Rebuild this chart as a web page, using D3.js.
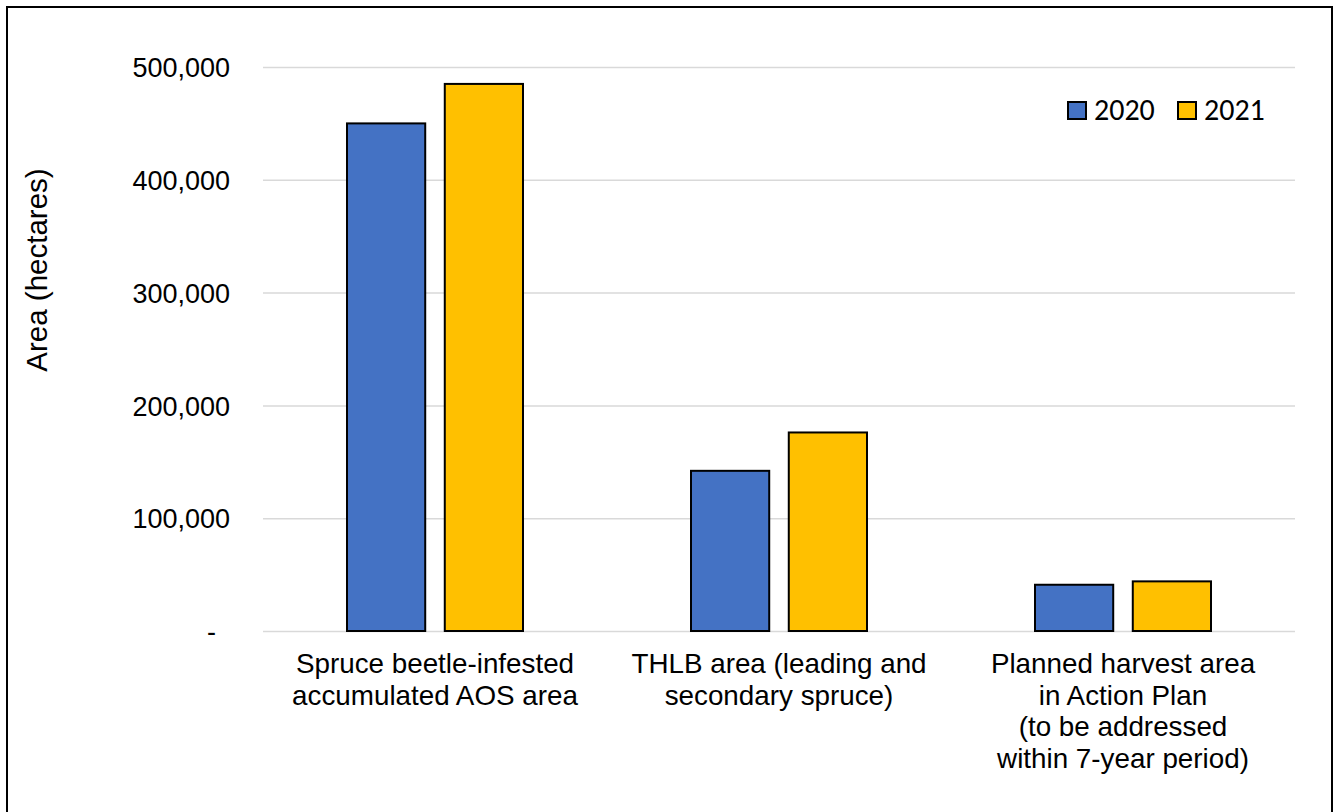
<!DOCTYPE html>
<html>
<head>
<meta charset="utf-8">
<script src="https://cdn.jsdelivr.net/npm/d3@7"></script>
<style>
html,body{margin:0;padding:0;background:#fff;}
svg{display:block;}
</style>
</head>
<body>
<svg id="chart" width="1334" height="812"></svg>
<script>
const categories = [
  ["Spruce beetle-infested", "accumulated AOS area"],
  ["THLB area (leading and", "secondary spruce)"],
  ["Planned harvest area", "in Action Plan", "(to be addressed", "within 7-year period)"]
];
const categoryKeys = ["Spruce", "THLB", "Planned"];
const seriesNames = ["2020", "2021"];
const values2020 = [450000, 142000, 41000];
const values2021 = [485000, 176000, 44000];
const yTicks = [0, 100000, 200000, 300000, 400000, 500000];
const colors = ["#4472C4", "#FFC000"];

const svg = d3.select("#chart");
const font = "'Liberation Sans', Arial, sans-serif";

// outer border
svg.append("rect").attr("x", 7).attr("y", 7).attr("width", 1325).attr("height", 820)
  .attr("fill", "#fff").attr("stroke", "#000").attr("stroke-width", 2);

const pLeft = 263, pRight = 1295, pTop = 67, pBottom = 631;

const y = d3.scaleLinear().domain([0, 500000]).range([pBottom, pTop]);
const x0 = d3.scaleBand().domain(categoryKeys).range([pLeft, pRight]).padding(0);
const x1 = d3.scaleBand().domain(seriesNames).range([84, 260]).paddingInner(0.2).paddingOuter(0);

// gridlines
const grid = svg.append("g").attr("transform", `translate(${pLeft},0)`)
  .call(d3.axisLeft(y).tickValues(yTicks).tickSize(-(pRight - pLeft)).tickFormat(""));
grid.select(".domain").remove();
grid.selectAll("line").attr("stroke", "#d9d9d9").attr("stroke-width", 1.5);

// y axis labels
const fmt = d3.format(",");
const yAxis = svg.append("g").attr("transform", `translate(230,0)`)
  .call(d3.axisLeft(y).tickValues(yTicks).tickSize(0).tickPadding(0)
    .tickFormat(d => d === 0 ? "-" : fmt(d)));
yAxis.select(".domain").remove();
yAxis.selectAll("text").attr("font-family", font).attr("font-size", 27).attr("fill", "#000")
  .attr("dy", "0.36em")
  .attr("dx", d => d === 0 ? -14 : 0);

// bars
const data = categoryKeys.map((k, i) => ({key: k, vals: [values2020[i], values2021[i]]}));
const groups = svg.append("g").selectAll("g").data(data).join("g")
  .attr("transform", d => `translate(${x0(d.key)},0)`);
groups.selectAll("rect").data(d => d.vals.map((v, j) => ({s: seriesNames[j], v, j})))
  .join("rect")
  .attr("x", d => x1(d.s))
  .attr("width", x1.bandwidth())
  .attr("y", d => y(d.v))
  .attr("height", d => y(0) - y(d.v))
  .attr("fill", d => colors[d.j])
  .attr("stroke", "#000").attr("stroke-width", 2);

// category labels
categoryKeys.forEach((k, i) => {
  const t = svg.append("text").attr("font-family", font).attr("font-size", 27.8)
    .attr("text-anchor", "middle").attr("fill", "#000");
  categories[i].forEach((line, li) => {
    t.append("tspan").attr("x", x0(k) + x0.bandwidth() / 2).attr("y", 673 + li * 31.7).text(line);
  });
});

// y title
svg.append("text").attr("transform", "translate(47,270) rotate(-90)")
  .attr("text-anchor", "middle").attr("font-family", font).attr("font-size", 29.5)
  .attr("fill", "#000").text("Area (hectares)");

// legend
const legX = [1068, 1178];
seriesNames.forEach((s, i) => {
  svg.append("rect").attr("x", legX[i]).attr("y", 102).attr("width", 18).attr("height", 17)
    .attr("fill", colors[i]).attr("stroke", "#000").attr("stroke-width", 2);
  svg.append("text").attr("x", legX[i] + 26).attr("y", 120)
    .attr("font-family", "Carlito, Calibri, Lato, sans-serif").attr("font-size", 30)
    .attr("fill", "#000").text(s);
});
</script>
</body>
</html>
